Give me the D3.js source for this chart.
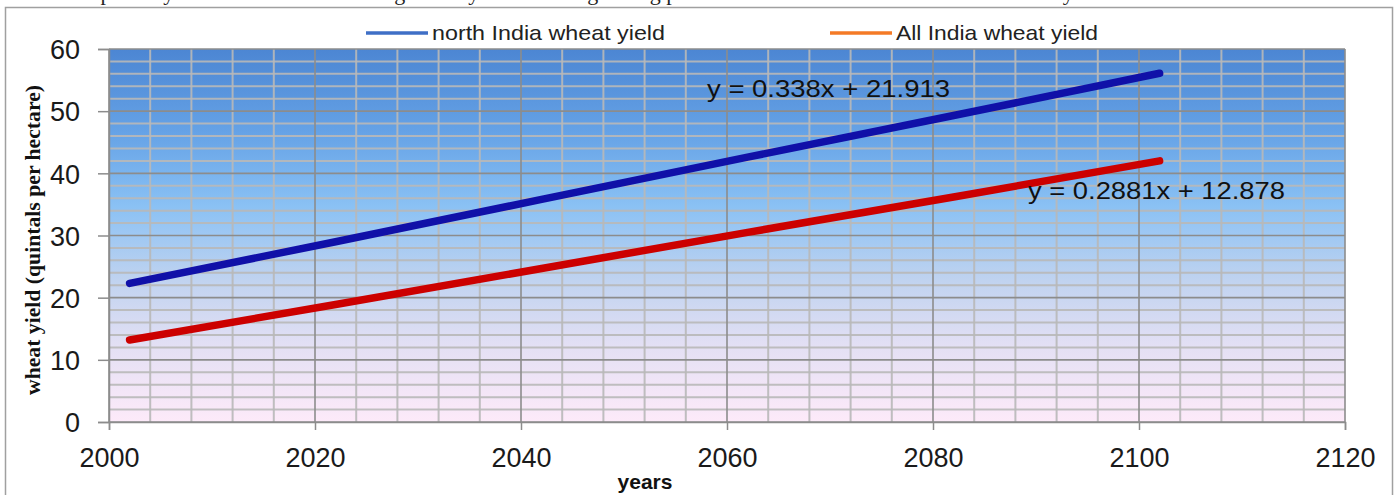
<!DOCTYPE html>
<html><head><meta charset="utf-8">
<script src="https://cdn.jsdelivr.net/npm/d3@7/dist/d3.min.js"></script>
<style>body{margin:0;background:#fff}svg{display:block}</style>
</head><body>
<svg id="c" width="1400" height="495"></svg>
<script>
// ---- data ----
const years = [2002, 2022, 2042, 2062, 2082, 2102];
const northIndia = [22.3, 29.0, 35.8, 42.6, 49.3, 56.1];
const allIndia = [13.2, 18.9, 24.7, 30.5, 36.2, 42.0];
const seriesNames = ["north India wheat yield", "All India wheat yield"];
const equations = ["y = 0.338x + 21.913", "y = 0.2881x + 12.878"];
const xTicks = [2000, 2020, 2040, 2060, 2080, 2100, 2120];
const yTicks = [0, 10, 20, 30, 40, 50, 60];
const caption = "The expected yield of wheat is increasing steadily with wheat growing predicted towards north India and All India by 2100.";

const svg = d3.select("#c");
const x = d3.scaleLinear().domain([2000, 2120]).range([109, 1345]);
const y = d3.scaleLinear().domain([0, 60]).range([422, 49]);

// clipped caption at very top (cut off in the reference too)
svg.append("text").attr("x", 40).attr("y", 0).attr("font-family", "Liberation Serif")
  .attr("font-size", 22).attr("fill", "#222").text(caption);

// outer border
svg.append("rect").attr("x", 5.5).attr("y", 7.5).attr("width", 1387).attr("height", 500)
  .attr("fill", "#fff").attr("stroke", "#a0a0a0").attr("stroke-width", 1.5);

// gradient
const defs = svg.append("defs");
const g = defs.append("linearGradient").attr("id", "bg").attr("x1", 0).attr("y1", 0).attr("x2", 0).attr("y2", 1);
[[0, "#4c86d3"], [0.22, "#65a2e6"], [0.42, "#8ac1f4"], [0.62, "#c0d3f0"], [0.8, "#e4e0f4"], [1, "#fdeaf9"]]
  .forEach(([o, c]) => g.append("stop").attr("offset", o).attr("stop-color", c));

svg.append("rect").attr("x", x(2000)).attr("y", y(60)).attr("width", x(2120) - x(2000))
  .attr("height", y(0) - y(60)).attr("fill", "url(#bg)");

// minor grid
const grid = svg.append("g");
d3.range(2004, 2120, 4).filter(v => v % 20 !== 0).forEach(v => {
  grid.append("line").attr("x1", x(v)).attr("x2", x(v)).attr("y1", y(0)).attr("y2", y(60))
    .attr("stroke", "#b9b9b9").attr("stroke-width", 2).attr("opacity", 0.9);
});
d3.range(2, 60, 2).filter(v => v % 10 !== 0).forEach(v => {
  grid.append("line").attr("x1", x(2000)).attr("x2", x(2120)).attr("y1", y(v)).attr("y2", y(v))
    .attr("stroke", "#b9b9b9").attr("stroke-width", 2).attr("opacity", 0.9);
});
// major grid
xTicks.forEach(v => {
  grid.append("line").attr("x1", x(v)).attr("x2", x(v)).attr("y1", y(0)).attr("y2", y(60))
    .attr("stroke", "#8c8c8c").attr("stroke-width", 1.6);
});
yTicks.forEach(v => {
  grid.append("line").attr("x1", x(2000)).attr("x2", x(2120)).attr("y1", y(v)).attr("y2", y(v))
    .attr("stroke", "#8c8c8c").attr("stroke-width", 1.6);
});

// axes
const fontTick = "Liberation Sans";
const yAxis = svg.append("g").attr("transform", `translate(${x(2000)},0)`)
  .call(d3.axisLeft(y).tickValues(yTicks).tickSize(11).tickPadding(18).tickFormat(d3.format("d")));
const xAxis = svg.append("g").attr("transform", `translate(0,${y(0)})`)
  .call(d3.axisBottom(x).tickValues(xTicks).tickSize(8).tickPadding(18).tickFormat(d3.format("d")));
[yAxis, xAxis].forEach(a => {
  a.select(".domain").attr("stroke", "#8c8c8c").attr("stroke-width", 1.5);
  a.selectAll(".tick line").attr("stroke", "#8c8c8c").attr("stroke-width", 1.5);
  a.selectAll("text").attr("font-family", fontTick).attr("font-size", 27).attr("fill", "#1a1a1a");
});
yAxis.selectAll("text").attr("dy", "0.36em");

// series lines
const line = d3.line().x((d, i) => x(years[i])).y(d => y(d));
svg.append("path").datum(northIndia).attr("d", line).attr("fill", "none")
  .attr("stroke", "#1010a8").attr("stroke-width", 7.5).attr("stroke-linecap", "round");
svg.append("path").datum(allIndia).attr("d", line).attr("fill", "none")
  .attr("stroke", "#cc0000").attr("stroke-width", 7.5).attr("stroke-linecap", "round");

// equations
svg.append("text").attr("x", 707).attr("y", 97).attr("font-family", "Liberation Sans")
  .attr("font-size", 23).attr("fill", "#111")
  .attr("textLength", 243).attr("lengthAdjust", "spacingAndGlyphs").text(equations[0]);
svg.append("text").attr("x", 1028).attr("y", 199).attr("font-family", "Liberation Sans")
  .attr("font-size", 23).attr("fill", "#111")
  .attr("textLength", 257).attr("lengthAdjust", "spacingAndGlyphs").text(equations[1]);

// legend
const legend = [
  { name: seriesNames[0], color: "#3f6fc6", x0: 366, w: 233 },
  { name: seriesNames[1], color: "#f47a26", x0: 830, w: 202 }
];
legend.forEach(l => {
  svg.append("line").attr("x1", l.x0).attr("x2", l.x0 + 62).attr("y1", 33).attr("y2", 33)
    .attr("stroke", l.color).attr("stroke-width", 3.5);
  svg.append("text").attr("x", l.x0 + 66).attr("y", 40).attr("font-family", "Liberation Sans")
    .attr("font-size", 21).attr("fill", "#222")
    .attr("textLength", l.w).attr("lengthAdjust", "spacingAndGlyphs").text(l.name);
});

// axis titles
svg.append("text").attr("x", 645).attr("y", 489).attr("text-anchor", "middle")
  .attr("font-family", "Liberation Sans").attr("font-weight", "bold").attr("font-size", 21)
  .attr("fill", "#111").text("years");
svg.append("text").attr("transform", "translate(40,240) rotate(-90)").attr("text-anchor", "middle")
  .attr("font-family", "Liberation Serif").attr("font-weight", "bold").attr("font-size", 21.5)
  .attr("fill", "#111").attr("textLength", 310).attr("lengthAdjust", "spacingAndGlyphs")
  .text("wheat yield (quintals per hectare)");
</script>
</body></html>
